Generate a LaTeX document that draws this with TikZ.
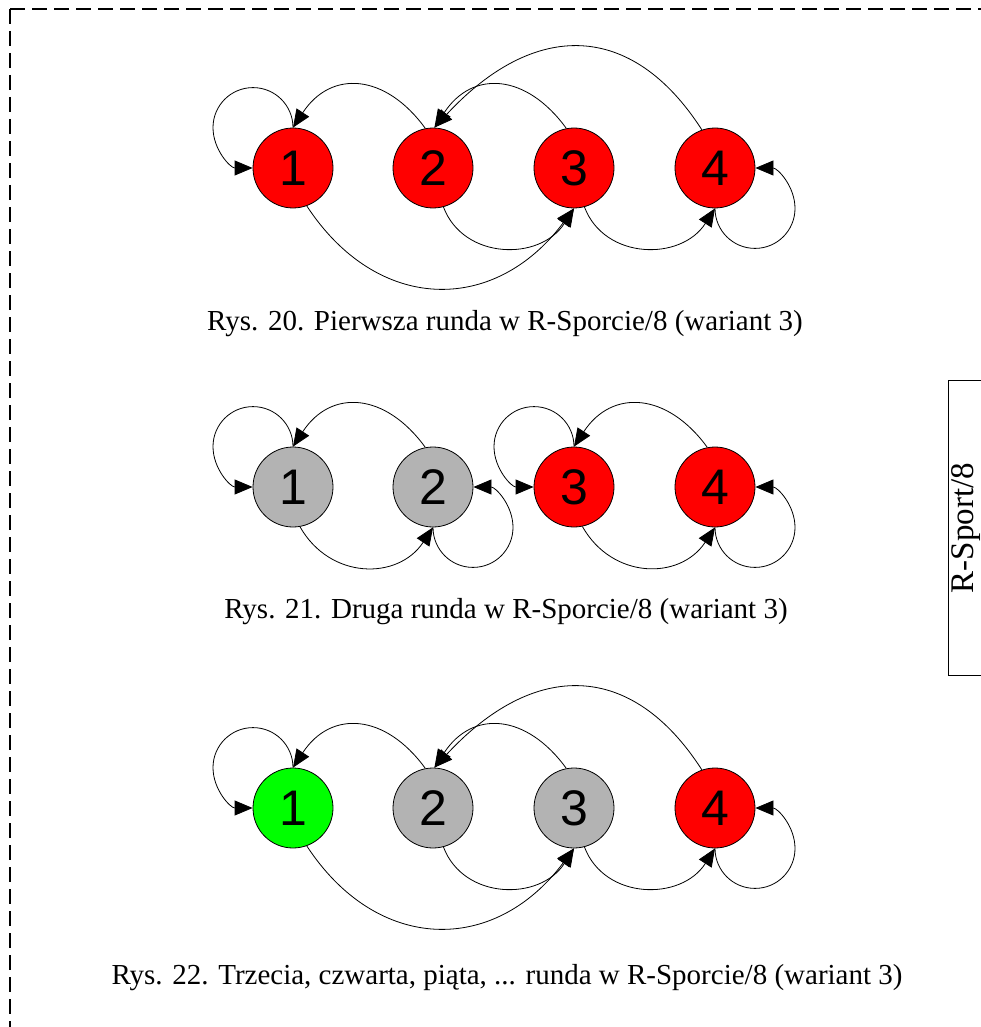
\documentclass[tikz,border=0pt]{standalone}
\usepackage{fontspec}
\setmainfont{Liberation Serif}
\newfontfamily\digitfont{Liberation Sans}
\usetikzlibrary{arrows.meta}
\definecolor{nred}{RGB}{255,0,0}
\definecolor{ngray}{RGB}{179,179,179}
\definecolor{ngreen}{RGB}{0,255,0}
\tikzset{
  st/.style={circle, draw=black, line width=0.8pt, minimum size=80pt, inner sep=0pt,
    font=\digitfont\fontsize{50}{52}\selectfont},
  stred/.style={st, fill=nred},
  stgray/.style={st, fill=ngray},
  stgreen/.style={st, fill=ngreen},
  edge/.style={line width=0.8pt, -{Triangle[length=18pt,width=15pt]}},
  captxt/.style={anchor=base, font=\fontsize{29}{32}\selectfont, inner sep=0pt},
}
\begin{document}
\begin{tikzpicture}[x=1pt,y=1pt]
\useasboundingbox (0,0) rectangle (981,-1027);
% dashed frame
\coordinate (fc) at (10,-9);
\draw[dash pattern=on 15pt off 7pt, line width=1.1pt] (fc) -- (1100,-9);
\draw[dash pattern=on 15pt off 7pt, line width=1.1pt] (fc) -- (10,-1100);
% side box
\draw[line width=1pt] (1100,-380) -- (948,-380) -- (948,-675) -- (1100,-675);
\node[rotate=90, anchor=base, font=\fontsize{33}{36}\selectfont, inner sep=0pt] (side) at (973,-528) {R-Sport/8};

% ---------- graph 1 ----------
\node[stred] (a1) at (293,-168) {1};
\node[stred] (a2) at (433,-168) {2};
\node[stred] (a3) at (574,-168) {3};
\node[stred] (a4) at (715,-168) {4};
\draw[edge] (a1.90) to[out=90,in=0] ++(-40,40) to[out=180,in=90] ++(-40,-40) to[out=-90,in=180] (a1.180);
\draw[edge] (a2.101) .. controls +(-40,55) and +(38,58) .. (a1.90);
\draw[edge] (a3.101) .. controls +(-40,55) and +(38,58) .. (a2.88);
\draw[edge] (a4.109) .. controls +(-70,109) and +(100,108) .. (a2.88);
\draw[edge] (a2.-75) .. controls +(20,-53) and +(-34,-53) .. (a3.-90);
\draw[edge] (a1.-70) .. controls +(70,-107) and +(-80,-107) .. (a3.-90);
\draw[edge] (a3.-75) .. controls +(20,-53) and +(-34,-53) .. (a4.-90);
\draw[edge] (a4.-90) to[out=-90,in=180] ++(40,-40) to[out=0,in=-90] ++(40,40) to[out=90,in=0] (a4.0);
\node[captxt] (cap1) at (505,-330) {Rys. 20. Pierwsza runda w R-Sporcie/8 (wariant 3)};

% ---------- graph 2 ----------
\node[stgray] (b1) at (293,-487) {1};
\node[stgray] (b2) at (433,-487) {2};
\node[stred] (b3) at (574,-487) {3};
\node[stred] (b4) at (715,-487) {4};
\draw[edge] (b1.90) to[out=90,in=0] ++(-40,40) to[out=180,in=90] ++(-40,-40) to[out=-90,in=180] (b1.180);
\draw[edge] (b2.101) .. controls +(-40,55) and +(38,58) .. (b1.90);
\draw[edge] (b1.-80) .. controls +(30,-53) and +(-35,-53) .. (b2.-90);
\draw[edge] (b2.-90) to[out=-90,in=180] ++(40,-40) to[out=0,in=-90] ++(40,40) to[out=90,in=0] (b2.0);
\draw[edge] (b3.90) to[out=90,in=0] ++(-40,40) to[out=180,in=90] ++(-40,-40) to[out=-90,in=180] (b3.180);
\draw[edge] (b4.101) .. controls +(-40,55) and +(38,58) .. (b3.90);
\draw[edge] (b3.-78) .. controls +(30,-53) and +(-35,-53) .. (b4.-90);
\draw[edge] (b4.-90) to[out=-90,in=180] ++(40,-40) to[out=0,in=-90] ++(40,40) to[out=90,in=0] (b4.0);
\node[captxt] (cap2) at (506,-618) {Rys. 21. Druga runda w R-Sporcie/8 (wariant 3)};

% ---------- graph 3 ----------
\node[stgreen] (c1) at (293,-808) {1};
\node[stgray] (c2) at (433,-808) {2};
\node[stgray] (c3) at (574,-808) {3};
\node[stred] (c4) at (715,-808) {4};
\draw[edge] (c1.90) to[out=90,in=0] ++(-40,40) to[out=180,in=90] ++(-40,-40) to[out=-90,in=180] (c1.180);
\draw[edge] (c2.101) .. controls +(-40,55) and +(38,58) .. (c1.90);
\draw[edge] (c3.101) .. controls +(-40,55) and +(38,58) .. (c2.88);
\draw[edge] (c4.109) .. controls +(-70,109) and +(100,108) .. (c2.88);
\draw[edge] (c2.-75) .. controls +(20,-53) and +(-34,-53) .. (c3.-90);
\draw[edge] (c1.-70) .. controls +(70,-107) and +(-80,-107) .. (c3.-90);
\draw[edge] (c3.-75) .. controls +(20,-53) and +(-34,-53) .. (c4.-90);
\draw[edge] (c4.-90) to[out=-90,in=180] ++(40,-40) to[out=0,in=-90] ++(40,40) to[out=90,in=0] (c4.0);
\node[captxt] (cap3) at (507,-984) {Rys. 22. Trzecia, czwarta, piąta, ... runda w R-Sporcie/8 (wariant 3)};
\end{tikzpicture}
\end{document}
